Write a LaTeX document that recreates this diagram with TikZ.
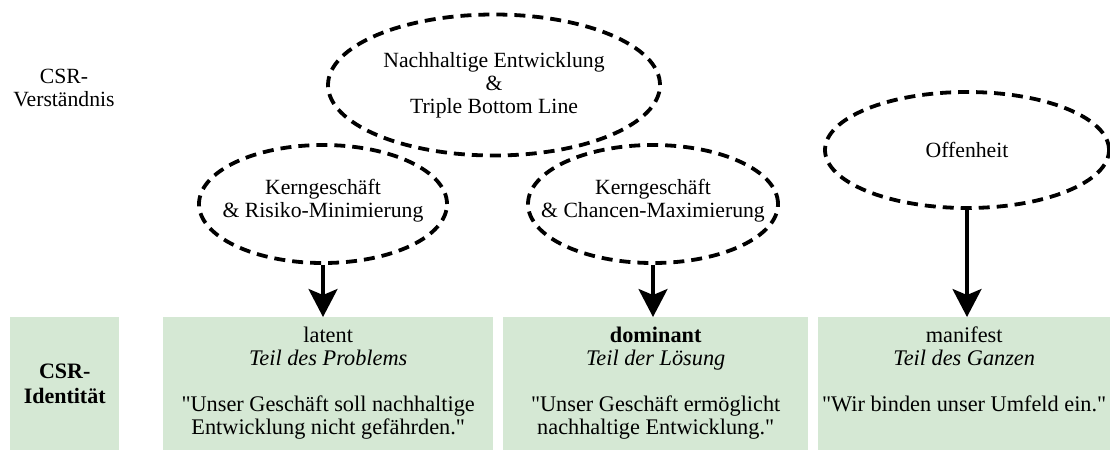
\documentclass[tikz,border=0pt]{standalone}
\usepackage{fontspec}
\setmainfont{Liberation Serif}
\usetikzlibrary{shapes.geometric,arrows.meta}
\definecolor{boxgreen}{HTML}{D5E8D4}
\tikzset{
  dashell/.style={draw=black, ellipse, line width=3.8pt, dash pattern=on 11pt off 7pt, inner sep=0pt},
  greenbox/.style={fill=boxgreen, draw=none, rectangle, inner sep=0pt, anchor=north west},
  txt/.style={align=center, inner sep=0pt, font=\fontsize{21.7}{23}\selectfont},
  arr/.style={line width=3.2pt, -{Stealth[length=28pt, width=29pt, inset=6pt]}},
}
\begin{document}
\begin{tikzpicture}[x=1pt,y=-1pt]
\useasboundingbox (0,0) rectangle (1110,450);
% ellipses
\node[dashell, minimum width=332pt, minimum height=141pt] (e1) at (494,85) {};
\node[dashell, minimum width=248pt, minimum height=118pt] (e2) at (323,204) {};
\node[dashell, minimum width=250pt, minimum height=118pt] (e3) at (653,204) {};
\node[dashell, minimum width=284pt, minimum height=116pt] (e4) at (967,150) {};
\node[txt] (t1) at (e1.center) {Nachhaltige Entwicklung\\\&\\Triple Bottom Line};
\node[txt] (t2) at ([yshift=3pt]e2.center) {Kerngeschäft\\\& Risiko-Minimierung};
\node[txt] (t3) at ([yshift=3pt]e3.center) {Kerngeschäft\\\& Chancen-Maximierung};
\node[txt] (t4) at (e4.center) {Offenheit};
\node[txt] (lab1) at (64,88) {CSR-\\Verständnis};
% boxes
\node[greenbox, minimum width=109pt, minimum height=133pt] (b1) at (10,317) {};
\node[greenbox, minimum width=330pt, minimum height=133pt] (b2) at (163,317) {};
\node[greenbox, minimum width=305pt, minimum height=133pt] (b3) at (503,317) {};
\node[greenbox, minimum width=292pt, minimum height=133pt] (b4) at (818,317) {};
\node[txt, font=\fontsize{22}{25}\selectfont\bfseries] (lab2) at ([yshift=0pt]b1.center) {CSR-\\Identität};
\node[txt, anchor=north, font=\fontsize{22.3}{23}\selectfont] (bt2) at ([yshift=-10pt]b2.north) {latent\\\textit{Teil des Problems}\\[23pt]\textquotedbl Unser Geschäft soll nachhaltige\\Entwicklung nicht gefährden.\textquotedbl};
\node[txt, anchor=north, font=\fontsize{22.3}{23}\selectfont] (bt3) at ([yshift=-10pt]b3.north) {\textbf{dominant}\\\textit{Teil der Lösung}\\[23pt]\textquotedbl Unser Geschäft ermöglicht\\nachhaltige Entwicklung.\textquotedbl};
\node[txt, anchor=north, font=\fontsize{22.3}{23}\selectfont] (bt4) at ([yshift=-10pt]b4.north) {manifest\\\textit{Teil des Ganzen}\\[23pt]\textquotedbl Wir binden unser Umfeld ein.\textquotedbl};
% arrows
\draw[arr] (e2.south) -- (e2.south |- b2.north);
\draw[arr] (e3.south) -- (e3.south |- b3.north);
\draw[arr] (e4.south) -- (e4.south |- b4.north);
\end{tikzpicture}
\end{document}
